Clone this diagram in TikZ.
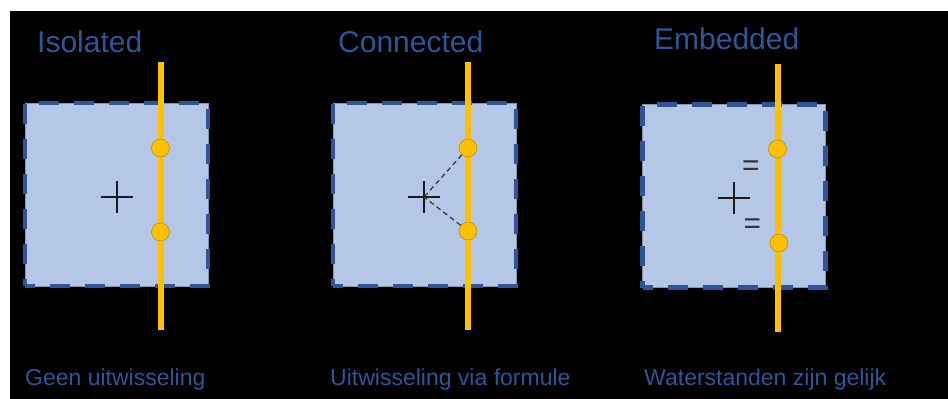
\documentclass[tikz,border=0pt]{standalone}
\usepackage{fontspec}
\setmainfont{Liberation Sans}
\usetikzlibrary{calc}
\definecolor{zonefill}{HTML}{B4C7E7}
\definecolor{zoneedge}{HTML}{2F5597}
\definecolor{zonethin}{HTML}{8497B0}
\definecolor{riveryellow}{HTML}{FFC000}
\definecolor{riveredge}{HTML}{BF9000}
\definecolor{labelblue}{HTML}{2F5597}
\definecolor{eqgrey}{HTML}{333333}
\tikzset{
  zone/.style={rectangle, inner sep=0pt, minimum width=183pt, minimum height=183pt,
    fill=zonefill, draw=zonethin, line width=0.8pt,
    postaction={draw=zoneedge, line width=4.5pt, dash pattern=on 20pt off 15pt, dash phase=10pt}},
  river/.style={draw=riveryellow, line width=6pt},
  gauge/.style={circle, inner sep=0pt, minimum size=18pt, fill=riveryellow, draw=riveredge, line width=0.6pt},
  crossline/.style={draw=black!90, line width=2.6pt},
  link/.style={draw=black!80, line width=1.2pt, dash pattern=on 5pt off 3.5pt},
  title/.style={anchor=base west, inner sep=0pt, text=labelblue, font=\fontsize{30}{36}\selectfont},
  caption/.style={anchor=base west, inner sep=0pt, text=labelblue, font=\fontsize{23}{27}\selectfont},
  eqsign/.style={inner sep=0pt, text=eqgrey, font=\fontsize{30}{36}\selectfont}
}
\begin{document}
\begin{tikzpicture}[x=1pt,y=-1pt]
  \useasboundingbox (0,0) rectangle (948,399);
  \fill[white] (0,0) rectangle (948,399);
  \fill[black] (10,11) rectangle (948,399);

  % titles
  \node[title] (t1) at (37,52) {Isolated};
  \node[title] (t2) at (338,52) {Connected};
  \node[title] (t3) at (654,49) {Embedded};

  % model domains
  \node[zone] (b1) at (116.5,194.5) {};
  \node[zone] (b2) at (424.5,194.5) {};
  \node[zone] (b3) at (734,196) {};

  % river axes
  \coordinate (r1a) at (160.5,62);  \coordinate (r1b) at (160.5,330);
  \coordinate (r2a) at (468,62);    \coordinate (r2b) at (468,330);
  \coordinate (r3a) at (777.5,64);  \coordinate (r3b) at (777.5,332);
  \draw[river] (r1a) -- (r1b);
  \draw[river] (r2a) -- (r2b);
  \draw[river] (r3a) -- (r3b);

  % domain centres
  \coordinate (c1) at (117,197);
  \coordinate (c2) at (424,197);
  \coordinate (c3) at (734,198);
  \foreach \c in {c1,c2,c3}{
    \draw[crossline] ($(\c)+(-16,0)$) -- ($(\c)+(16,0)$)
                     ($(\c)+(0,-16)$) -- ($(\c)+(0,16)$);
  }

  % gauge points
  \node[gauge] (u1) at (160.5,148) {};
  \node[gauge] (l1) at (160.5,232) {};
  \node[gauge] (u2) at (468,148) {};
  \node[gauge] (l2) at (468,231) {};
  \node[gauge] (u3) at (777.5,149) {};
  \node[gauge] (l3) at (779,243) {};

  % exchange via formula
  \draw[link] (u2) -- (c2);
  \draw[link] (l2) -- (c2);

  % equal water levels
  \node[eqsign] (e1) at (751,168) {=};
  \node[eqsign] (e2) at (752.5,226) {=};

  % captions
  \node[caption] (k1) at (25,385) {Geen uitwisseling};
  \node[caption] (k2) at (330,385) {Uitwisseling via formule};
  \node[caption] (k3) at (644,385) {Waterstanden zijn gelijk};
\end{tikzpicture}
\end{document}
